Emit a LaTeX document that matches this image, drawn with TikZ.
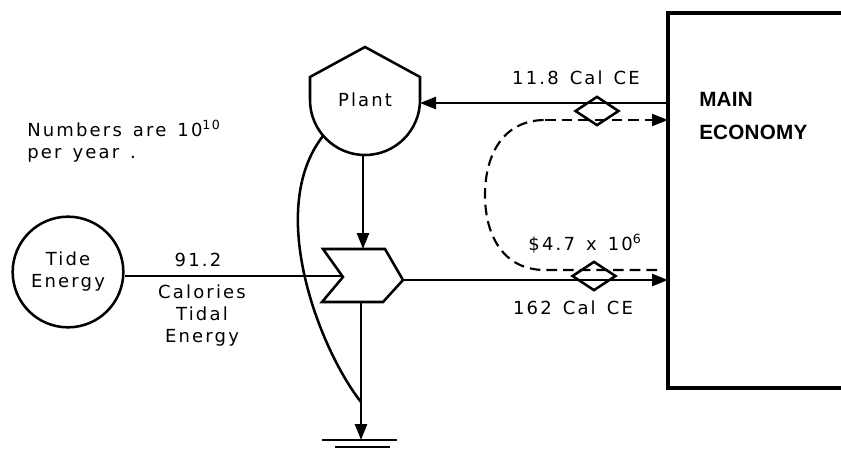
\documentclass[tikz,border=0pt]{standalone}
\usepackage{fontspec}
\setmainfont{DejaVu Sans}[LetterSpace=12,WordSpace=1.4]
\newfontfamily\econfont{Liberation Sans}[LetterSpace=1]
\usetikzlibrary{arrows.meta,shapes.geometric}
\tikzset{
  flow/.style={line width=1.9pt,-{Triangle[length=12pt,width=9pt]}},
  wire/.style={line width=1.9pt},
  money/.style={line width=1.6pt,dash pattern=on 8pt off 4.5pt},
  label/.style={font=\fontsize{13.5}{16.5}\selectfont,align=center,inner sep=0pt},
  price/.style={diamond,draw,line width=1.9pt,minimum width=33pt,minimum height=22pt,inner sep=0pt}
}
\begin{document}
\begin{tikzpicture}[x=0.75pt,y=-0.75pt]
  \useasboundingbox (0,0) rectangle (841,451);
  % main economy, open to the right
  \draw[line width=2.4pt] (841,13) -- (668,13) -- (668,388) -- (841,388);
  \node[inner sep=0pt,font=\econfont\bfseries\fontsize{15.5}{25}\selectfont,align=left,anchor=west] (econ) at (699,116) {MAIN\\ECONOMY};
  \coordinate (econ-top) at (668,103);
  \coordinate (econ-mid) at (668,120);
  \coordinate (econ-low) at (657,270);
  \coordinate (econ-bot) at (668,280);
  % plant
  \draw[wire] (365,47) -- (420,77) -- (420,100) arc[start angle=0,end angle=180,radius=55] -- (310,77) -- cycle;
  \node[label] (plant) at (365,100) {Plant};
  \coordinate (plant-e) at (420,103);
  \coordinate (plant-s) at (363,155);
  \coordinate (plant-sw) at (323,136);
  % tide source
  \node[circle,draw,line width=1.9pt,minimum size=83pt,label] (tide) at (68,272) {Tide\\Energy};
  % interaction
  \draw[wire] (323,249) -- (385,249) -- (403,280) -- (383,302) -- (322,302) -- (343,277) -- cycle;
  \coordinate (gate-n) at (363,249);
  \coordinate (gate-w) at (343,276);
  \coordinate (gate-e) at (403,280);
  \coordinate (gate-s) at (361,302);
  % heat sink
  \coordinate (sink) at (361,440);
  \coordinate (merge) at (361,402);
  \draw[wire] (322,440) -- (397,440);
  \draw[wire] (335,447) -- (390,447);
  % flows
  \draw[wire] (gate-w -| tide.east) -- (gate-w);
  \draw[flow] (plant-s) -- (gate-n);
  \draw[flow] (gate-e) -- (econ-bot);
  \draw[flow] (econ-top) -- (plant-e);
  \draw[flow] (gate-s) -- (sink);
  \draw[wire] (plant-sw) .. controls (265,210) and (320,350) .. (merge);
  % money loop
  \coordinate (loop-b) at (545,270);
  \coordinate (loop-w) at (485,195);
  \coordinate (loop-t) at (545,120);
  \draw[money] (econ-low) -- (loop-b) .. controls (503,270) and (485,235) .. (loop-w) .. controls (485,155) and (503,120) .. (loop-t);
  \draw[money,-{Triangle[length=12pt,width=9pt]}] (loop-t) -- (econ-mid);
  \node[price] (p1) at (597,111) {};
  \node[price] (p2) at (594,276) {};
  % labels
  \node[label] (l-top) at (576,78) {11.8 Cal CE};
  \node[label] (l-bot) at (573,308) {162 Cal CE};
  \node[label] (l-usd) at (585,244) {\$4.7 x 10\textsuperscript{6}};
  \node[label] (l-tide) at (198,260) {91.2};
  \node[label] (l-cal) at (202,316) {Calories\\Tidal\\Energy};
  \node[label,align=left,anchor=west] (note) at (27,141) {Numbers are 10\textsuperscript{10}\\per year .};
\end{tikzpicture}
\end{document}
